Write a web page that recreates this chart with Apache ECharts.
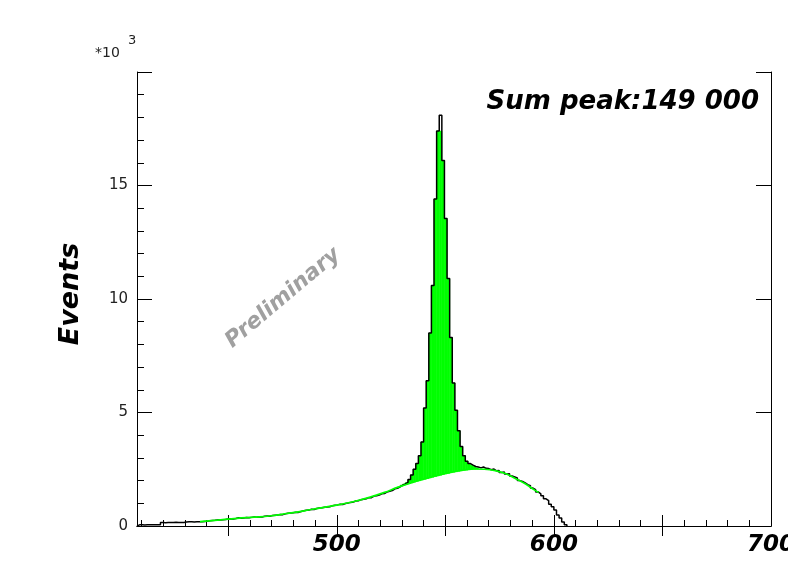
<!DOCTYPE html>
<html>
<head>
<meta charset="utf-8">
<script src="https://cdn.jsdelivr.net/npm/echarts@6/dist/echarts.min.js"></script>
<style>
html, body { margin: 0; padding: 0; background: #fff; }
#main { width: 788px; height: 573px; }
</style>
</head>
<body>
<div id="main"></div>
<script>
// histogram binning (MeV)
var histMin = 408;
var binWidth = 1.2;

// events per bin, from 408 MeV
var counts = [
  50, 50, 40, 50, 50, 60, 50, 50, 50,
  150, 140, 150, 150, 150, 160, 150, 150, 150,
  180, 190, 190, 180, 190, 190, 190,
  200, 210, 230, 240, 250, 270, 260, 280, 290, 310,
  320, 310, 330, 360, 340, 350, 370, 360, 380, 400,
  390, 410, 400, 430, 440, 430, 460, 470, 480, 510,
  500, 540, 560, 570, 580, 610, 600, 640, 670, 690,
  700, 740, 730, 770, 790, 800, 830, 840, 850, 890,
  910, 930, 960, 950, 990, 1010, 1040, 1060, 1100, 1110,
  1160, 1180, 1200, 1250, 1250, 1320, 1330, 1360, 1420, 1430,
  1500, 1530, 1560, 1640, 1660,
  1720, 1800, 1850, 1920, 2050, 2250, 2500, 2750, 3100, 3700,
  5200, 6400, 8500, 10600, 14400, 17400, 18100, 16100, 13550, 10900,
  8300, 6300, 5100, 4200, 3500, 3100, 2850, 2750, 2680, 2620, 2600,
  2560, 2600, 2540, 2530, 2480, 2510, 2430, 2450, 2360, 2380,
  2290, 2300, 2200, 2160, 2120, 2000, 1960, 1900, 1820, 1780,
  1670, 1600, 1500, 1420, 1330, 1200, 1120, 960, 850, 700,
  480, 350, 180, 60
];

// green filled peak: first bin index, top of fill, background under it
var peakFirstBin = 100;
var peakTop = [
  1720, 1800, 1850, 1920, 2050, 2250, 2500, 2750, 3100, 3700,
  5200, 6400, 8500, 10600, 14400, 17400, 17400, 16100, 13550, 10900,
  8300, 6300, 5100, 4200, 3500, 3100, 2850, 2750, 2680, 2620, 2560
];
var peakBase = [
  1720, 1760, 1800, 1830, 1870, 1910, 1940, 1970, 2000, 2030,
  2060, 2090, 2120, 2150, 2180, 2210, 2240, 2270, 2300, 2320,
  2350, 2370, 2390, 2410, 2430, 2450, 2460, 2480, 2490, 2500, 2510
];

// background curve (green line)
var bkgX = [437, 445, 454, 462, 469, 477, 485, 492, 500, 508, 515, 522,
            528, 536, 545, 554, 563, 568, 573, 578, 582, 587, 591, 593];
var bkgY = [190, 260, 340, 390, 440, 550, 670, 790, 920, 1080, 1260, 1480,
            1700, 1950, 2200, 2390, 2510, 2500, 2440, 2300, 2100, 1850, 1590, 1480];

// axis ticks
var xMajorTicks = [450, 500, 550, 600, 650];
var xMinorTicks = [410, 420, 430, 440, 460, 470, 480, 490, 510, 520, 530, 540,
                   560, 570, 580, 590, 610, 620, 630, 640, 660, 670, 680, 690];
var xLabels = [500, 600, 700];

function edge(i) {
  return +(histMin + i * binWidth).toFixed(2);
}

var dataPts = [[edge(0), 0]];
for (var i = 0; i < counts.length; i++) dataPts.push([edge(i), counts[i]]);
dataPts.push([edge(counts.length), 0]);

// each filled bin: [low edge, high edge, background, top]
var fillBins = [];
for (var j = 0; j < peakTop.length; j++) {
  fillBins.push([edge(peakFirstBin + j), edge(peakFirstBin + j + 1), peakBase[j], peakTop[j]]);
}

var bkgPts = bkgX.map(function (x, k) { return [x, bkgY[k]]; });

function bi(s) { return 'bold italic ' + s + 'px "DejaVu Sans"'; }

var option = {
  animation: false,
  backgroundColor: '#fff',
  grid: { left: 137, right: 17, top: 72, bottom: 47, containLabel: false, outerBoundsMode: 'none' },
  xAxis: [{
    type: 'value', min: 408, max: 700, position: 'bottom',
    axisLine: { show: true, onZero: false, lineStyle: { color: '#000', width: 1 } },
    axisTick: { show: true, inside: true, length: 11, customValues: xMajorTicks, lineStyle: { color: '#000' } },
    axisLabel: {
      show: true, customValues: xLabels, margin: 8, hideOverlap: false,
      color: '#000', fontFamily: 'DejaVu Sans', fontWeight: 'bold', fontStyle: 'italic', fontSize: 23
    },
    splitLine: { show: false }
  }, {
    type: 'value', min: 408, max: 700, position: 'bottom',
    axisLine: { show: false },
    axisTick: { show: true, inside: true, length: 6, customValues: xMinorTicks, lineStyle: { color: '#000' } },
    axisLabel: { show: false },
    splitLine: { show: false }
  }, {
    type: 'value', min: 408, max: 700, position: 'top',
    axisLine: { show: true, lineStyle: { color: '#000', width: 1 } },
    axisTick: { show: true, inside: true, length: 10, customValues: xMajorTicks, lineStyle: { color: '#000' } },
    axisLabel: { show: false },
    splitLine: { show: false }
  }],
  yAxis: [{
    type: 'value', min: 0, max: 20000, interval: 5000, position: 'left',
    axisLine: { show: true, lineStyle: { color: '#000', width: 1 } },
    axisTick: { show: true, inside: true, length: 15, lineStyle: { color: '#000' } },
    minorTick: { show: true, splitNumber: 5, length: 7, lineStyle: { color: '#000' } },
    axisLabel: {
      margin: 9, color: '#222', fontFamily: 'DejaVu Sans', fontSize: 15,
      formatter: function (v) { return v >= 20000 ? '' : String(v / 1000); }
    },
    splitLine: { show: false }
  }, {
    type: 'value', min: 0, max: 20000, interval: 5000, position: 'right',
    axisLine: { show: true, lineStyle: { color: '#000', width: 1 } },
    axisTick: { show: true, inside: true, length: 15, lineStyle: { color: '#000' } },
    axisLabel: { show: false },
    splitLine: { show: false }
  }],
  series: [{
    name: 'peak', type: 'custom', silent: true, z: 2,
    data: fillBins,
    encode: { x: [0, 1], y: [2, 3] },
    renderItem: function (params, api) {
      var p0 = api.coord([api.value(0), api.value(3)]);
      var p1 = api.coord([api.value(1), api.value(2)]);
      return {
        type: 'rect',
        shape: { x: p0[0], y: p0[1], width: p1[0] - p0[0], height: p1[1] - p0[1] },
        style: { fill: '#00ff00', stroke: '#00ff00', lineWidth: 0.6 }
      };
    }
  }, {
    name: 'data', type: 'line', step: 'end',
    data: dataPts, showSymbol: false, symbol: 'none', silent: true,
    lineStyle: { color: '#000', width: 1.5 }, z: 3
  }, {
    name: 'background', type: 'line', smooth: 0.4,
    data: bkgPts, showSymbol: false, symbol: 'none', silent: true,
    lineStyle: { color: '#00ff00', width: 1.7 }, z: 4
  }],
  graphic: [{
    type: 'text', x: 95, y: 53,
    style: { text: '*10', font: '14px "DejaVu Sans"', fill: '#222', align: 'left', verticalAlign: 'middle' }
  }, {
    type: 'text', x: 128, y: 41,
    style: { text: '3', font: '13px "DejaVu Sans"', fill: '#222', align: 'left', verticalAlign: 'middle' }
  }, {
    type: 'text', x: 71, y: 294, rotation: Math.PI / 2,
    style: { text: 'Events', font: bi(27), fill: '#000', align: 'center', verticalAlign: 'middle' }
  }, {
    type: 'text', x: 283, y: 298, rotation: 0.7,
    style: { text: 'Preliminary', font: bi(22), fill: '#a0a0a0', align: 'center', verticalAlign: 'middle' }
  }, {
    type: 'text', x: 759, y: 102,
    style: { text: 'Sum peak:149 000', font: bi(26), fill: '#000', align: 'right', verticalAlign: 'middle' }
  }]
};

var myChart = echarts.init(document.getElementById('main'));
myChart.setOption(option);
window.addEventListener('resize', function () { myChart.resize(); });
</script>
</body>
</html>
